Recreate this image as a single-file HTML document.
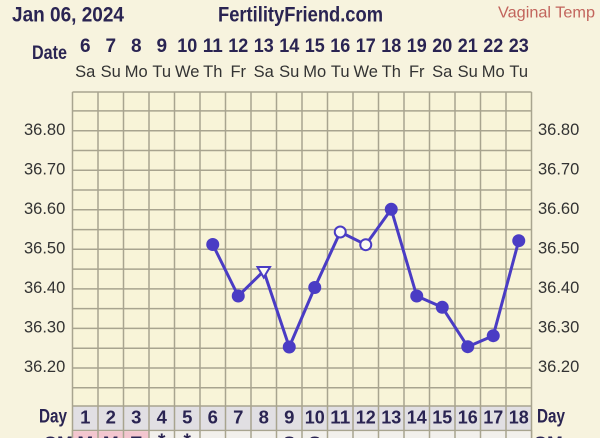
<!DOCTYPE html>
<html><head><meta charset="utf-8"><style>
html,body{margin:0;padding:0;background:#f7f3de;}
svg{display:block;}
text{font-family:"Liberation Sans",sans-serif;}
</style></head><body>
<svg width="600" height="438" viewBox="0 0 600 438" xmlns="http://www.w3.org/2000/svg">
<rect x="0" y="0" width="600" height="438" fill="#f7f3de"/>
<!-- header -->
<text x="12" y="21.5" font-size="21" font-weight="bold" fill="#2a2452" textLength="112" lengthAdjust="spacingAndGlyphs">Jan 06, 2024</text>
<text x="218" y="21.5" font-size="21" font-weight="bold" fill="#2a2452" textLength="165" lengthAdjust="spacingAndGlyphs">FertilityFriend.com</text>
<text x="498" y="17.5" font-size="16" fill="#c2645c" textLength="97" lengthAdjust="spacingAndGlyphs">Vaginal Temp</text>
<text x="32" y="59" font-size="19" font-weight="bold" fill="#2a2452" textLength="35" lengthAdjust="spacingAndGlyphs">Date</text>
<g font-size="19" font-weight="bold" fill="#2a2452" text-anchor="middle">
<text x="85.25" y="52">6</text><text x="110.75" y="52">7</text><text x="136.25" y="52">8</text><text x="161.75" y="52">9</text>
<text x="187.25" y="52" textLength="20" lengthAdjust="spacingAndGlyphs">10</text><text x="212.75" y="52" textLength="20" lengthAdjust="spacingAndGlyphs">11</text><text x="238.25" y="52" textLength="20" lengthAdjust="spacingAndGlyphs">12</text><text x="263.75" y="52" textLength="20" lengthAdjust="spacingAndGlyphs">13</text>
<text x="289.25" y="52" textLength="20" lengthAdjust="spacingAndGlyphs">14</text><text x="314.75" y="52" textLength="20" lengthAdjust="spacingAndGlyphs">15</text><text x="340.25" y="52" textLength="20" lengthAdjust="spacingAndGlyphs">16</text><text x="365.75" y="52" textLength="20" lengthAdjust="spacingAndGlyphs">17</text>
<text x="391.25" y="52" textLength="20" lengthAdjust="spacingAndGlyphs">18</text><text x="416.75" y="52" textLength="20" lengthAdjust="spacingAndGlyphs">19</text><text x="442.25" y="52" textLength="20" lengthAdjust="spacingAndGlyphs">20</text><text x="467.75" y="52" textLength="20" lengthAdjust="spacingAndGlyphs">21</text>
<text x="493.25" y="52" textLength="20" lengthAdjust="spacingAndGlyphs">22</text><text x="518.75" y="52" textLength="20" lengthAdjust="spacingAndGlyphs">23</text>
</g>
<g font-size="16.5" fill="#333" text-anchor="middle">
<text x="85.25" y="77">Sa</text><text x="110.75" y="77">Su</text><text x="136.25" y="77">Mo</text><text x="161.75" y="77">Tu</text>
<text x="187.25" y="77">We</text><text x="212.75" y="77">Th</text><text x="238.25" y="77">Fr</text><text x="263.75" y="77">Sa</text>
<text x="289.25" y="77">Su</text><text x="314.75" y="77">Mo</text><text x="340.25" y="77">Tu</text><text x="365.75" y="77">We</text>
<text x="391.25" y="77">Th</text><text x="416.75" y="77">Fr</text><text x="442.25" y="77">Sa</text><text x="467.75" y="77">Su</text>
<text x="493.25" y="77">Mo</text><text x="518.75" y="77">Tu</text>
</g>
<!-- grid -->
<rect x="72.5" y="92" width="459" height="314" fill="#f8f4d8"/>
<g stroke="#a8a48f" stroke-width="1.5" fill="none">
<path d="M72.5 92V406M98 92V406M123.5 92V406M149 92V406M174.5 92V406M200 92V406M225.5 92V406M251 92V406M276.5 92V406M302 92V406M327.5 92V406M353 92V406M378.5 92V406M404 92V406M429.5 92V406M455 92V406M480.5 92V406M506 92V406M531.5 92V406"/>
<path d="M72.5 92H531.5M72.5 110.9H531.5M72.5 130.7H531.5M72.5 150.5H531.5M72.5 170.2H531.5M72.5 190H531.5M72.5 209.8H531.5M72.5 229.6H531.5M72.5 249.3H531.5M72.5 269.1H531.5M72.5 288.9H531.5M72.5 308.6H531.5M72.5 328.4H531.5M72.5 348.2H531.5M72.5 368H531.5M72.5 387.7H531.5"/>
</g>
<!-- temp labels -->
<g font-size="16.5" fill="#333">
<text x="24" y="135">36.80</text><text x="24" y="174.5">36.70</text><text x="24" y="214">36.60</text><text x="24" y="253.5">36.50</text><text x="24" y="293">36.40</text><text x="24" y="332.5">36.30</text><text x="24" y="372">36.20</text>
<text x="538" y="135">36.80</text><text x="538" y="174.5">36.70</text><text x="538" y="214">36.60</text><text x="538" y="253.5">36.50</text><text x="538" y="293">36.40</text><text x="538" y="332.5">36.30</text><text x="538" y="372">36.20</text>
</g>
<!-- day row -->
<rect x="72.5" y="406" width="459" height="24" fill="#e1dfe3"/>
<g stroke="#a8a48f" stroke-width="1.5" fill="none">
<path d="M72.5 406V438M98 406V438M123.5 406V438M149 406V438M174.5 406V438M200 406V438M225.5 406V438M251 406V438M276.5 406V438M302 406V438M327.5 406V438M353 406V438M378.5 406V438M404 406V438M429.5 406V438M455 406V438M480.5 406V438M506 406V438M531.5 406V438"/>
<path d="M72.5 406H531.5M72.5 430.5H531.5"/>
</g>
<text x="39" y="422.5" font-size="19" font-weight="bold" fill="#2a2452" textLength="28" lengthAdjust="spacingAndGlyphs">Day</text>
<text x="537" y="422.5" font-size="19" font-weight="bold" fill="#2a2452" textLength="28" lengthAdjust="spacingAndGlyphs">Day</text>
<g font-size="18.5" font-weight="bold" fill="#2a2452" text-anchor="middle">
<text x="85.25" y="423.5">1</text><text x="110.75" y="423.5">2</text><text x="136.25" y="423.5">3</text><text x="161.75" y="423.5">4</text>
<text x="187.25" y="423.5">5</text><text x="212.75" y="423.5">6</text><text x="238.25" y="423.5">7</text><text x="263.75" y="423.5">8</text>
<text x="289.25" y="423.5">9</text><text x="314.75" y="423.5" textLength="20" lengthAdjust="spacingAndGlyphs">10</text><text x="340.25" y="423.5" textLength="20" lengthAdjust="spacingAndGlyphs">11</text><text x="365.75" y="423.5" textLength="20" lengthAdjust="spacingAndGlyphs">12</text>
<text x="391.25" y="423.5" textLength="20" lengthAdjust="spacingAndGlyphs">13</text><text x="416.75" y="423.5" textLength="20" lengthAdjust="spacingAndGlyphs">14</text><text x="442.25" y="423.5" textLength="20" lengthAdjust="spacingAndGlyphs">15</text><text x="467.75" y="423.5" textLength="20" lengthAdjust="spacingAndGlyphs">16</text>
<text x="493.25" y="423.5" textLength="20" lengthAdjust="spacingAndGlyphs">17</text><text x="518.75" y="423.5" textLength="20" lengthAdjust="spacingAndGlyphs">18</text>
</g>
<!-- CM row -->
<rect x="72.5" y="431.2" width="459" height="8" fill="#f2f0ec"/>
<rect x="72.5" y="431.2" width="76.5" height="8" fill="#f3c6cf"/>
<g stroke="#a8a48f" stroke-width="1.5" fill="none">
<path d="M72.5 430V438M98 430V438M123.5 430V438M149 430V438M174.5 430V438M200 430V438M225.5 430V438M251 430V438M276.5 430V438M302 430V438M327.5 430V438M353 430V438M378.5 430V438M404 430V438M429.5 430V438M455 430V438M480.5 430V438M506 430V438M531.5 430V438"/>
</g>
<g font-size="19" font-weight="bold" fill="#2a2452" text-anchor="middle">
<text x="58" y="450">CM</text><text x="548" y="450">CM</text>
<text x="85.25" y="450">M</text><text x="110.75" y="450">M</text><text x="136.25" y="450">E</text>
<text x="161.75" y="447">*</text><text x="187.25" y="447">*</text>
<text x="289.25" y="450">S</text><text x="314.75" y="450">S</text>
</g>
<!-- series -->
<polyline fill="none" stroke="#4a3cc4" stroke-width="3" stroke-linejoin="round" points="212.75,244.5 238.25,296 263.75,271 289.25,347 314.75,287.5 340.25,232 365.75,244.7 391.25,209.3 416.75,296 442.25,307.3 467.75,346.7 493.25,335.7 518.75,240.7"/>
<g fill="#4a3cc4">
<circle cx="212.75" cy="244.5" r="6.5"/>
<circle cx="238.25" cy="296" r="6.5"/>
<circle cx="289.25" cy="347" r="6.5"/>
<circle cx="314.75" cy="287.5" r="6.5"/>
<circle cx="391.25" cy="209.3" r="6.5"/>
<circle cx="416.75" cy="296" r="6.5"/>
<circle cx="442.25" cy="307.3" r="6.5"/>
<circle cx="467.75" cy="346.7" r="6.5"/>
<circle cx="493.25" cy="335.7" r="6.5"/>
<circle cx="518.75" cy="240.7" r="6.5"/>
</g>
<g fill="#fbfaf2" stroke="#4a3cc4" stroke-width="2">
<circle cx="340.25" cy="232" r="5.5"/>
<circle cx="365.75" cy="244.7" r="5.5"/>
<polygon points="257.5,267 270,267 263.75,277.5"/>
</g>
</svg>
</body></html>
